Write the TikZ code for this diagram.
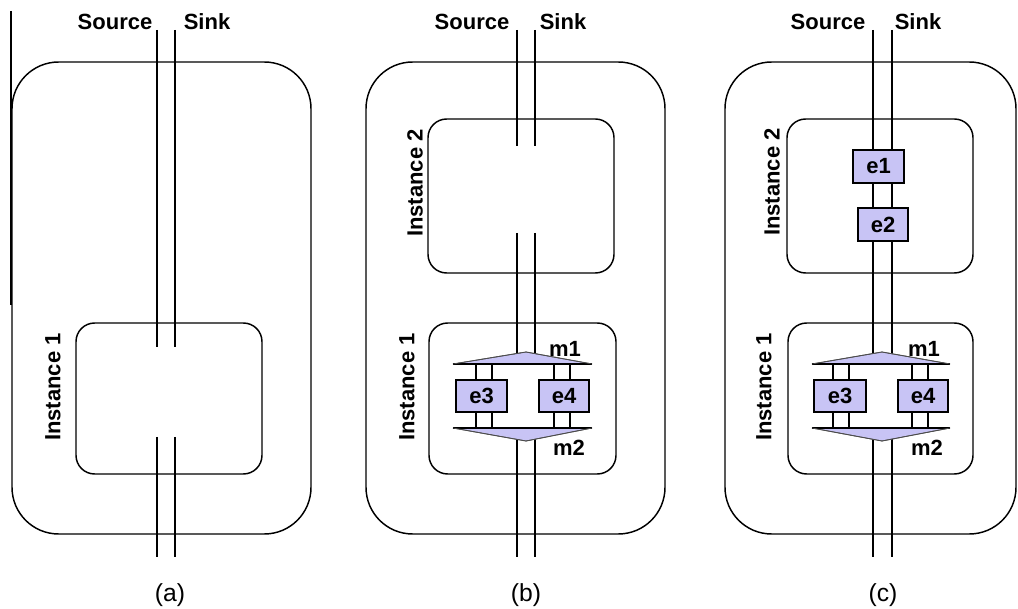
\documentclass[tikz,border=0pt]{standalone}
\usepackage{fontspec}
\setmainfont{Liberation Sans}
\usetikzlibrary{fit}
\definecolor{lav}{RGB}{200,196,245}
\begin{document}
\begin{tikzpicture}[x=0.75pt,y=-0.75pt,
  lbl/.style={font=\fontsize{16.5}{19}\selectfont\bfseries, inner sep=0pt},
  captext/.style={font=\fontsize{18.5}{22}\selectfont, inner sep=0pt, anchor=base},
  inst/.style={lbl, rotate=90},
  wire/.style={line width=1.1pt},
  outerbox/.style={draw, line width=1.1pt, rounded corners=35pt, inner sep=0pt},
  innerbox/.style={draw, line width=1.1pt, rounded corners=14pt, inner sep=0pt},
  ebox/.style={draw, fill=lav, line width=1.1pt, inner sep=0pt, minimum height=24pt, font=\fontsize{16.5}{19}\selectfont\bfseries},
  mfill/.style={fill=lav, draw=black!70, line width=0.6pt},
  mbase/.style={line width=1.1pt}
]
\useasboundingbox[fill=white] (0,0) rectangle (1018,609);

% stray left rule
\coordinate (stA) at (11,11); \coordinate (stB) at (11,305);
\draw[wire] (stA) -- (stB);

%%%%%%%%%%%%%%%% (a)
\node[outerbox, fit={(12,62)(311,534)}] (aO) {};
\node[innerbox, fit={(76,323)(262,474)}] (aI1) {};
\coordinate (aSo0) at (157,30); \coordinate (aSo1) at (157,347);
\coordinate (aSo2) at (157,437); \coordinate (aSo3) at (157,557);
\coordinate (aSi0) at (175,30); \coordinate (aSi1) at (175,347);
\coordinate (aSi2) at (175,437); \coordinate (aSi3) at (175,557);
\draw[wire] (aSo0) -- (aSo1) (aSo2) -- (aSo3);
\draw[wire] (aSi0) -- (aSi1) (aSi2) -- (aSi3);
\node[lbl, anchor=base] (aSrc) at (115,30) {Source};
\node[lbl, anchor=base] (aSnk) at (207,30) {Sink};
\node[inst] (aT1) at (53,387) {Instance 1};
\node[captext] (aCap) at (170,601) {(a)};

%%%%%%%%%%%%%%%% (b)
\node[outerbox, fit={(366,62)(665,534)}] (bO) {};
\node[innerbox, fit={(428,119)(614,273)}] (bI2) {};
\node[innerbox, fit={(429,323)(616,474)}] (bI1) {};
\coordinate (bSo0) at (517,30); \coordinate (bSo1) at (517,146);
\coordinate (bSo2) at (517,233); \coordinate (bSo3) at (517,358);
\coordinate (bSo4) at (517,436); \coordinate (bSo5) at (517,557);
\coordinate (bSi0) at (535,30); \coordinate (bSi1) at (535,146);
\coordinate (bSi2) at (535,233); \coordinate (bSi3) at (535,358);
\coordinate (bSi4) at (535,436); \coordinate (bSi5) at (535,557);
\draw[wire] (bSo0) -- (bSo1) (bSo2) -- (bSo3) (bSo4) -- (bSo5);
\draw[wire] (bSi0) -- (bSi1) (bSi2) -- (bSi3) (bSi4) -- (bSi5);
% m1 / m2
\coordinate (bm1L) at (453,364); \coordinate (bm1T) at (526,352); \coordinate (bm1R) at (592,364);
\coordinate (bm2L) at (453,428); \coordinate (bm2B) at (526,441); \coordinate (bm2R) at (592,428);
\fill[mfill] (bm1L) -- (bm1T) -- (bm1R) -- cycle;
\draw[mbase] (bm1L) -- (bm1R);
\fill[mfill] (bm2L) -- (bm2B) -- (bm2R) -- cycle;
\draw[mbase] (bm2L) -- (bm2R);
\draw[mfill, fill=none] (bm1L) -- (bm1T) -- (bm1R);
\draw[mfill, fill=none] (bm2L) -- (bm2B) -- (bm2R);
% e3 / e4
\node[ebox, minimum width=38.25pt] (be3) at (481.5,396) {e3};
\node[ebox, minimum width=37.5pt] (be4) at (564,396) {e4};
\foreach \x in {476,492,554,570}{
  \draw[wire] (\x,364) -- (\x,380);
  \draw[wire] (\x,412) -- (\x,428);
}
\node[lbl] (bm1) at (565,349) {m1};
\node[lbl] (bm2) at (569,448) {m2};
\node[lbl, anchor=base] (bSrc) at (472,30) {Source};
\node[lbl, anchor=base] (bSnk) at (563,30) {Sink};
\node[inst] (bT2) at (415,183) {Instance 2};
\node[inst] (bT1) at (407,387) {Instance 1};
\node[captext] (bCap) at (526,601) {(b)};

%%%%%%%%%%%%%%%% (c)
\node[outerbox, fit={(725,62)(1016,534)}] (cO) {};
\node[innerbox, fit={(787,119)(973,273)}] (cI2) {};
\node[innerbox, fit={(788,323)(973,474)}] (cI1) {};
\coordinate (cSo0) at (873,30); \coordinate (cSo1) at (873,358);
\coordinate (cSo2) at (873,436); \coordinate (cSo3) at (873,557);
\coordinate (cSi0) at (892,30); \coordinate (cSi1) at (892,358);
\coordinate (cSi2) at (892,436); \coordinate (cSi3) at (892,557);
\draw[wire] (cSo0) -- (cSo1) (cSo2) -- (cSo3);
\draw[wire] (cSi0) -- (cSi1) (cSi2) -- (cSi3);
\node[ebox, minimum width=38.25pt, minimum height=24.75pt] (ce1) at (878.5,166.5) {e1};
\node[ebox, minimum width=37.5pt, minimum height=24.75pt] (ce2) at (883,224.5) {e2};
\coordinate (cm1L) at (812,364); \coordinate (cm1T) at (882,352); \coordinate (cm1R) at (950,364);
\coordinate (cm2L) at (812,428); \coordinate (cm2B) at (882,441); \coordinate (cm2R) at (950,428);
\fill[mfill] (cm1L) -- (cm1T) -- (cm1R) -- cycle;
\draw[mbase] (cm1L) -- (cm1R);
\fill[mfill] (cm2L) -- (cm2B) -- (cm2R) -- cycle;
\draw[mbase] (cm2L) -- (cm2R);
\draw[mfill, fill=none] (cm1L) -- (cm1T) -- (cm1R);
\draw[mfill, fill=none] (cm2L) -- (cm2B) -- (cm2R);
\node[ebox, minimum width=39pt] (ce3) at (840,396) {e3};
\node[ebox, minimum width=37.5pt] (ce4) at (923,396) {e4};
\foreach \x in {833,849,912,928}{
  \draw[wire] (\x,364) -- (\x,380);
  \draw[wire] (\x,412) -- (\x,428);
}
\node[lbl] (cm1) at (924,349) {m1};
\node[lbl] (cm2) at (927,448) {m2};
\node[lbl, anchor=base] (cSrc) at (828,30) {Source};
\node[lbl, anchor=base] (cSnk) at (918,30) {Sink};
\node[inst] (cT2) at (772,182) {Instance 2};
\node[inst] (cT1) at (764,387) {Instance 1};
\node[captext] (cCap) at (883,601) {(c)};
\end{tikzpicture}
\end{document}
